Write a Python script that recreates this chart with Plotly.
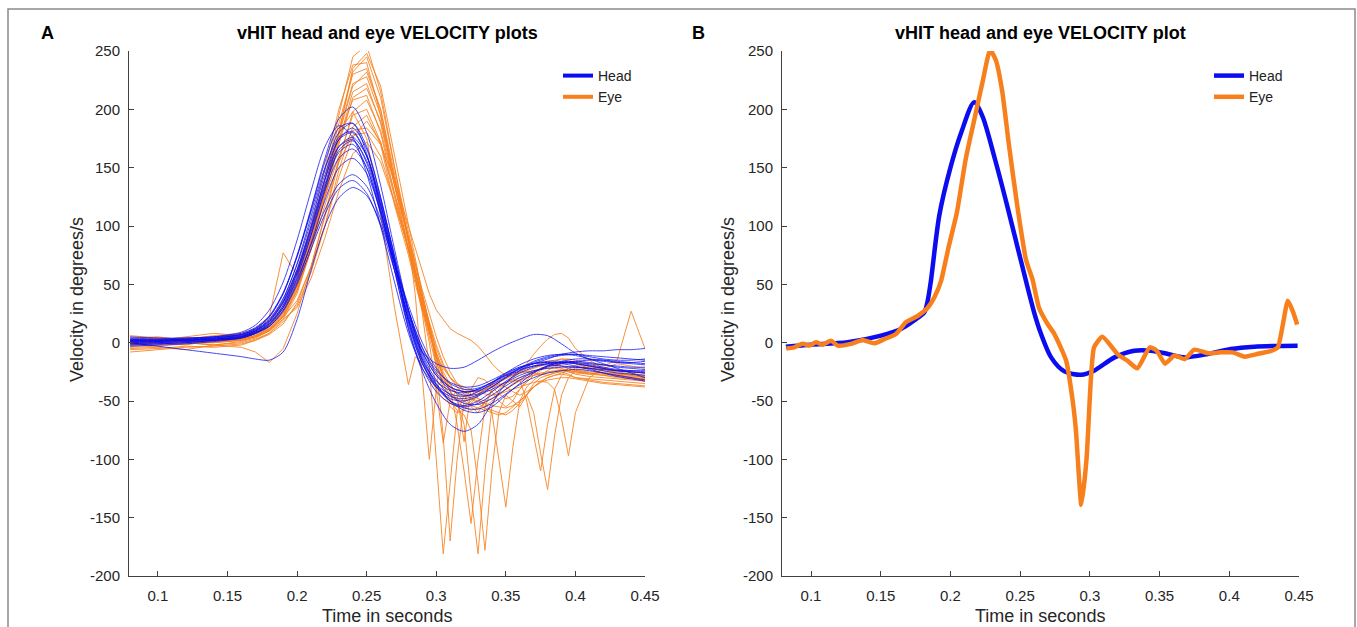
import plotly.graph_objects as go

# ---------------- Panel A data (many trials) ----------------
T_HEAD_A = [0.08, 0.10, 0.12, 0.14, 0.16, 0.17, 0.18, 0.19, 0.20, 0.21, 0.22, 0.23, 0.24, 0.25,
            0.26, 0.27, 0.28, 0.29, 0.30, 0.31, 0.32, 0.33, 0.34, 0.35, 0.36, 0.37, 0.38, 0.39,
            0.40, 0.41, 0.42, 0.43, 0.44, 0.45]

h01 = [2, 2, 3, 4, 7, 12, 22, 42, 75, 115, 158, 192, 202, 180, 135, 80, 28, -10, -32, -45, -52, -53, -48, -40, -32, -25, -20, -17, -16, -17, -19, -21, -22, -23]
h02 = [-2, -1, 0, 2, 5, 10, 19, 37, 68, 108, 148, 180, 188, 168, 125, 74, 25, -12, -35, -50, -58, -60, -55, -45, -35, -26, -20, -16, -14, -14, -15, -17, -18, -19]
h03 = [0, 0, 1, 2, 4, 8, 16, 32, 60, 98, 140, 174, 184, 166, 124, 72, 12, -25, -52, -70, -76, -70, -52, -35, -24, -18, -16, -16, -17, -19, -21, -23, -24, -25]
h04 = [3, 3, 4, 5, 8, 13, 23, 43, 74, 112, 150, 176, 181, 160, 118, 68, 18, -18, -38, -48, -50, -46, -38, -30, -24, -20, -18, -17, -18, -20, -22, -24, -25, -26]
h05 = [1, 1, 2, 3, 6, 11, 20, 38, 67, 104, 144, 174, 180, 160, 120, 70, 20, -8, -18, -22, -21, -15, -8, -2, 3, 7, 6, -1, -9, -14, -16, -17, -17, -16]
h06 = [5, 4, 4, 5, 7, 11, 19, 35, 62, 98, 136, 168, 176, 160, 122, 75, 28, -8, -28, -40, -45, -44, -38, -30, -22, -16, -12, -10, -10, -12, -14, -15, -15, -14]
h07 = [-3, -2, -1, 1, 4, 8, 15, 30, 56, 92, 132, 165, 173, 156, 118, 70, 22, -14, -36, -50, -56, -57, -52, -44, -36, -30, -26, -24, -23, -24, -26, -28, -30, -32]
h08 = [2, 2, 3, 4, 6, 10, 18, 34, 60, 95, 134, 163, 170, 150, 110, 62, 15, -18, -36, -44, -46, -42, -35, -28, -22, -18, -14, -10, -8, -7, -7, -6, -6, -5]
h09 = [4, 3, 3, 5, 9, 15, 28, 52, 88, 130, 168, 186, 176, 145, 100, 52, 8, -22, -38, -46, -48, -45, -40, -34, -28, -24, -22, -21, -21, -22, -24, -26, -27, -28]
h10 = [0, 1, 2, 3, 5, 9, 17, 32, 58, 92, 130, 158, 166, 150, 112, 66, 20, -15, -33, -41, -43, -40, -34, -26, -19, -14, -11, -10, -11, -14, -18, -22, -26, -30]
h11 = [-1, 0, 1, 2, 4, 8, 14, 28, 52, 85, 122, 150, 158, 145, 112, 70, 28, -5, -26, -38, -42, -40, -34, -27, -21, -18, -17, -18, -20, -23, -26, -29, -31, -33]
h12 = [1, 1, 2, 3, 5, 9, 16, 30, 54, 84, 114, 136, 144, 134, 106, 68, 28, -4, -24, -34, -38, -37, -32, -26, -21, -18, -17, -17, -18, -20, -22, -24, -25, -26]
h13 = [3, 2, 2, 3, 5, 8, 14, 27, 50, 80, 110, 132, 139, 128, 100, 62, 24, -8, -28, -38, -42, -41, -36, -29, -22, -17, -13, -11, -10, -11, -12, -13, -14, -15]
h14 = [0, -3, -6, -9, -12, -14, -15, -8, 20, 62, 100, 124, 133, 126, 102, 68, 32, 0, -22, -35, -40, -39, -34, -28, -23, -20, -19, -20, -21, -22, -23, -24, -24, -24]
h15 = [2, 2, 2, 4, 7, 12, 22, 42, 74, 114, 155, 184, 188, 162, 115, 62, 12, -22, -42, -52, -55, -52, -45, -37, -30, -25, -21, -18, -16, -15, -15, -16, -17, -18]
h16 = [-1, -1, 0, 2, 5, 10, 18, 35, 63, 100, 140, 168, 174, 154, 114, 66, 18, -16, -38, -50, -54, -50, -42, -33, -26, -21, -18, -17, -17, -18, -19, -20, -21, -21]

T_EYE_A = [0.08, 0.10, 0.12, 0.14, 0.16, 0.17, 0.18, 0.19, 0.20, 0.21, 0.22, 0.23, 0.24, 0.25,
           0.26, 0.27, 0.28, 0.285, 0.29, 0.295, 0.30, 0.305, 0.31, 0.315, 0.32, 0.325, 0.33,
           0.335, 0.34, 0.345, 0.35, 0.355, 0.36, 0.365, 0.37, 0.375, 0.38, 0.385, 0.39, 0.395,
           0.40, 0.41, 0.42, 0.43, 0.44, 0.45]

e01 = [-3, -2, 2, 0, 3, 6, 12, 25, 50, 90, 140, 195, 245, 255, 215, 150, 85, 55, 25, -20, -100, -181, -120, -60, -45, -55, -60, -50, -42, -38, -35, -30, -26, -24, -22, -20, -18, -20, -22, -24, -25, -27, -25, -28, -30, -32]
e02 = [-5, -4, -6, -2, 0, 3, 8, 20, 42, 80, 130, 182, 232, 245, 210, 150, 95, 65, 40, 15, -20, -80, -170, -100, -50, -40, -48, -55, -50, -45, -40, -35, -32, -30, -28, -27, -26, -25, -24, -24, -25, -26, -28, -30, -31, -32]
e03 = [2, 4, 3, 6, 8, 12, 20, 35, 62, 100, 150, 200, 238, 240, 195, 135, 80, 55, 30, 5, -20, -35, -45, -50, -70, -130, -181, -110, -55, -40, -35, -32, -30, -28, -26, -22, -20, -18, -20, -22, -24, -25, -26, -27, -28, -29]
e04 = [0, 1, -1, 2, 4, 8, 15, 30, 55, 92, 140, 188, 230, 235, 200, 140, 88, 60, 35, 10, -15, -35, -50, -58, -62, -75, -120, -178, -110, -60, -45, -50, -55, -45, -35, -30, -28, -26, -25, -27, -30, -32, -34, -35, -36, -37]
e05 = [-2, 0, 4, 1, 3, 6, 12, 24, 48, 85, 132, 180, 222, 228, 195, 140, 90, 62, 38, 12, -12, -30, -42, -50, -55, -58, -56, -52, -60, -100, -141, -90, -50, -38, -32, -28, -24, -20, -18, -17, -18, -20, -22, -24, -25, -26]
e06 = [3, 2, 0, -2, 1, 4, 10, 22, 45, 80, 125, 172, 215, 222, 188, 135, 88, 60, 34, 10, -12, -28, -38, -44, -46, -45, -42, -40, -38, -36, -34, -33, -32, -50, -80, -110, -70, -40, -28, -22, -20, -20, -22, -24, -25, -26]
e07 = [-4, -3, -1, 0, 2, 5, 11, 23, 46, 82, 125, 170, 210, 218, 190, 140, 92, 65, 40, 15, -8, -25, -36, -44, -50, -54, -56, -58, -60, -62, -60, -55, -50, -45, -60, -95, -126, -80, -45, -30, -24, -22, -23, -25, -27, -29]
e08 = [1, 0, 2, 3, 5, 8, 14, 28, 52, 88, 130, 175, 208, 212, 180, 128, 80, 55, 30, 8, -10, -22, -30, -35, -38, -40, -42, -44, -45, -44, -42, -40, -38, -36, -34, -33, -34, -40, -65, -97, -60, -30, -22, -18, -20, -22]
e09 = [0, 2, 5, 8, 6, 10, 22, 77, 58, 95, 140, 180, 198, 175, 110, 30, -36, -12, -18, -30, -40, -48, -52, -55, -54, -50, -45, -40, -35, -30, -28, -26, -25, -25, -26, -27, -28, -26, -24, -22, -21, -22, -24, -27, -30, -33]
e10 = [-6, -5, -3, -4, -2, 2, 8, 18, 32, 60, 100, 148, 185, 195, 170, 118, 75, 50, 28, 0, -40, -86, -50, -40, -42, -45, -48, -50, -48, -44, -40, -36, -33, -30, -28, -26, -25, -24, -24, -25, -26, -27, -28, -29, -30, -31]
e11 = [2, 3, 1, 4, 6, 9, 16, 30, 55, 88, 125, 160, 182, 184, 170, 140, 100, 80, 60, 42, 28, 20, 12, 8, 5, 2, -3, -10, -18, -24, -28, -28, -24, -18, -10, -3, 3, 7, 8, 4, -5, -15, -22, -26, -28, -30]
e12 = [-1, 1, 3, 1, 2, 5, 10, 20, 30, 55, 90, 130, 162, 172, 155, 120, 80, 55, 30, 10, -10, -28, -40, -70, -110, -155, -100, -55, -40, -35, -38, -42, -45, -42, -38, -34, -30, -28, -27, -28, -30, -31, -32, -33, -34, -35]
e13 = [4, 5, 2, 3, 7, 10, 14, 26, 48, 80, 118, 155, 178, 180, 160, 122, 82, 58, 36, 15, -5, -20, -30, -36, -40, -42, -42, -40, -37, -34, -31, -28, -25, -22, -20, -18, -16, -15, -14, -14, -15, -18, -20, -15, 27, -5]
e14 = [-8, -6, -4, -3, -1, 2, 7, 16, 34, 65, 108, 155, 198, 208, 182, 135, 90, 66, 45, 25, 5, -12, -25, -35, -42, -48, -52, -56, -58, -60, -62, -58, -52, -45, -38, -34, -32, -31, -30, -30, -31, -33, -35, -36, -37, -38]
e15 = [0, 1, 0, -2, -4, -8, -17, -5, 25, 65, 110, 158, 195, 200, 172, 125, 80, 55, 32, 10, -12, -30, -42, -48, -50, -48, -44, -40, -36, -33, -30, -28, -26, -25, -24, -23, -22, -22, -23, -25, -27, -29, -30, -31, -32, -33]
e16 = [3, 0, -2, 2, 4, 7, 13, 26, 50, 86, 132, 178, 220, 232, 200, 145, 90, 40, -30, -100, -40, -30, -35, -45, -85, -40, -30, -32, -38, -44, -48, -46, -40, -34, -28, -24, -20, -16, -14, -15, -18, -22, -26, -28, -30, -31]
e17 = [-2, -1, 1, 0, 2, 5, 10, 22, 44, 80, 128, 180, 235, 248, 220, 160, 100, 70, 42, 15, -15, -40, -55, -60, -58, -52, -45, -40, -42, -50, -55, -50, -40, -32, -26, -22, -20, -19, -20, -22, -24, -26, -27, -28, -29, -30]
e18 = [6, 4, 2, 1, 3, 6, 11, 22, 36, 65, 100, 142, 176, 190, 172, 128, 85, 60, 38, 18, -2, -18, -30, -38, -44, -48, -50, -52, -54, -55, -56, -54, -50, -44, -38, -33, -30, -28, -26, -24, -22, -21, -22, -24, -26, -28]

HEAD_A = [h01, h02, h03, h04, h05, h06, h07, h08, h09, h10, h11, h12, h13, h14, h15, h16]
EYE_A = [e01, e02, e03, e04, e05, e06, e07, e08, e09, e10, e11, e12, e13, e14, e15, e16, e17, e18]

# ---------------- Panel B data (single trial) ----------------
T_HEAD_B = [0.082, 0.10, 0.1263, 0.1502, 0.1645, 0.174, 0.1813, 0.1837, 0.186, 0.192, 0.20, 0.208,
            0.217, 0.223, 0.232, 0.241, 0.251, 0.26, 0.265, 0.2722, 0.2817, 0.2937, 0.303, 0.3177,
            0.3319, 0.344, 0.356, 0.3676, 0.3846, 0.401, 0.418, 0.449]
V_HEAD_B = [-3.4, -1.7, 0.3, 6, 11.7, 19, 26, 36, 53, 109, 150, 181, 206, 194, 157, 116, 68, 26,
            7.4, -12.6, -24.6, -27.5, -24, -12.6, -6.9, -6.9, -9.7, -12.6, -9.7, -5.4, -3.4, -2.6]

T_EYE_B = [0.0823, 0.0879, 0.094, 0.0988, 0.1036, 0.1084, 0.1143, 0.1192, 0.1287, 0.137,
           0.1454, 0.1526, 0.161, 0.168, 0.1766, 0.1837, 0.1885, 0.1933, 0.1985, 0.2047,
           0.2109, 0.2171, 0.2233, 0.2285, 0.2326, 0.2372, 0.2419, 0.2481, 0.2542, 0.2589,
           0.2635, 0.2697, 0.2745, 0.283, 0.2877, 0.290, 0.2939, 0.2976, 0.3007, 0.303,
           0.309, 0.320, 0.327, 0.334, 0.343, 0.348, 0.354, 0.3606, 0.368, 0.375,
           0.3846, 0.394, 0.4025, 0.411, 0.419, 0.430, 0.4348, 0.442, 0.4455, 0.4487]
V_EYE_B = [-5, -4, -1, -2.5, 0.3, -1.7, 1.7, -2.5, -1, 2.3,
           -0.6, 3, 7.4, 17.5, 23, 30, 39, 53, 81, 112,
           157, 191, 225, 251, 242, 215, 170, 116, 71, 54,
           30, 16, 7.5, -15.5, -50, -75, -139, -100, -32, -4,
           5, -10, -15.5, -22, -4, -7, -18, -11, -14, -6,
           -9, -8.3, -8.3, -12, -10, -7, -4, 36, 27, 15.5]

X_TICKS = [0.1, 0.15, 0.2, 0.25, 0.3, 0.35, 0.4, 0.45]
X_TICK_TEXT = ["0.1", "0.15", "0.2", "0.25", "0.3", "0.35", "0.4", "0.45"]
Y_TICKS = [-200, -150, -100, -50, 0, 50, 100, 150, 200, 250]
Y_TICK_TEXT = ["-200", "-150", "-100", "-50", "0", "50", "100", "150", "200", "250"]
X_RANGE = [0.0792, 0.45]
Y_RANGE = [-200, 250]

TITLE_A = "vHIT head and eye VELOCITY plots"
TITLE_B = "vHIT head and eye VELOCITY plot"
X_LABEL = "Time in seconds"
Y_LABEL = "Velocity in degrees/s"

# ---------------- figure ----------------
W, H = 1357, 627
FONT = "Liberation Sans, Arial, Helvetica, sans-serif"
BLUE = "#0c0cf0"
ORANGE = "#f8801c"
AXCOL = "#404040"


def fx(p):
    return p / W


def fy(p):
    return 1 - p / H


fig = go.Figure()

for e in EYE_A:
    fig.add_trace(go.Scatter(x=T_EYE_A, y=e, mode="lines", xaxis="x", yaxis="y",
                             line=dict(color=ORANGE, width=1), opacity=0.85,
                             showlegend=False, hoverinfo="skip"))
for h in HEAD_A:
    fig.add_trace(go.Scatter(x=T_HEAD_A, y=h, mode="lines", xaxis="x", yaxis="y",
                             line=dict(color=BLUE, width=1, shape="spline", smoothing=0.8),
                             opacity=0.75, showlegend=False, hoverinfo="skip"))
# legend keys for panel A
fig.add_trace(go.Scatter(x=[None], y=[None], mode="lines", xaxis="x", yaxis="y", name="Head",
                         line=dict(color=BLUE, width=4), legend="legend"))
fig.add_trace(go.Scatter(x=[None], y=[None], mode="lines", xaxis="x", yaxis="y", name="Eye",
                         line=dict(color=ORANGE, width=4), legend="legend"))

# panel B
fig.add_trace(go.Scatter(x=T_HEAD_B, y=V_HEAD_B, mode="lines", xaxis="x2", yaxis="y2", name="Head",
                         line=dict(color=BLUE, width=4.5, shape="spline", smoothing=0.8),
                         legend="legend2", hoverinfo="skip"))
fig.add_trace(go.Scatter(x=T_EYE_B, y=V_EYE_B, mode="lines", xaxis="x2", yaxis="y2", name="Eye",
                         line=dict(color=ORANGE, width=4.5, shape="spline", smoothing=0.5),
                         legend="legend2", hoverinfo="skip"))

axis_common = dict(showline=True, linecolor=AXCOL, linewidth=1, ticks="inside", ticklen=5,
                   tickcolor=AXCOL, tickwidth=1, showgrid=False, zeroline=False, mirror=False,
                   automargin=False,
                   tickfont=dict(size=15, color="#262626", family=FONT), fixedrange=True)

legend_common = dict(xanchor="left", yanchor="top", bgcolor="rgba(0,0,0,0)", borderwidth=0,
                     font=dict(size=14, family=FONT, color="#222"), tracegroupgap=0,
                     itemwidth=30)


def ann(text, x, y, size, color="#262626", angle=0):
    return dict(text=text, x=fx(x), y=fy(y), xref="paper", yref="paper", showarrow=False,
                xanchor="center", yanchor="middle", textangle=angle,
                font=dict(size=size, color=color, family=FONT))


fig.update_layout(
    width=W, height=H,
    margin=dict(l=0, r=0, t=0, b=0, pad=0, autoexpand=False),
    paper_bgcolor="white", plot_bgcolor="white",
    font=dict(family=FONT, color="#222"),
    xaxis=dict(domain=[fx(129), fx(645)], range=X_RANGE, anchor="y", tickvals=X_TICKS,
               ticktext=X_TICK_TEXT, ticklabelstandoff=6, **axis_common),
    yaxis=dict(domain=[fy(576), fy(51)], range=Y_RANGE, anchor="x", tickvals=Y_TICKS,
               ticktext=Y_TICK_TEXT, ticklabelstandoff=5, **axis_common),
    xaxis2=dict(domain=[fx(782), fx(1299)], range=X_RANGE, anchor="y2", tickvals=X_TICKS,
                ticktext=X_TICK_TEXT, ticklabelstandoff=6, **axis_common),
    yaxis2=dict(domain=[fy(576), fy(51)], range=Y_RANGE, anchor="x2", tickvals=Y_TICKS,
                ticktext=Y_TICK_TEXT, ticklabelstandoff=5, **axis_common),
    legend=dict(x=fx(558), y=fy(60), **legend_common),
    legend2=dict(x=fx(1209), y=fy(60), **legend_common),
    shapes=[dict(type="rect", xref="paper", yref="paper", x0=fx(8), x1=fx(1355),
                 y0=-0.05, y1=fy(9), line=dict(color="#8a8a8a", width=1.5), layer="below")],
    annotations=[
        ann("<b>A</b>", 47, 33, 18, "black"),
        ann("<b>B</b>", 698, 33, 18, "black"),
        ann("<b>" + TITLE_A + "</b>", 387, 33, 18, "black"),
        ann("<b>" + TITLE_B + "</b>", 1040, 33, 18, "black"),
        ann(X_LABEL, 387, 616, 18),
        ann(X_LABEL, 1040, 616, 18),
        ann(Y_LABEL, 77, 300, 18, angle=-90),
        ann(Y_LABEL, 728, 300, 18, angle=-90),
    ],
)

fig.write_html("out.html", config={"displayModeBar": False},
               post_script="document.body.style.margin='0';document.body.style.overflow='hidden';")
